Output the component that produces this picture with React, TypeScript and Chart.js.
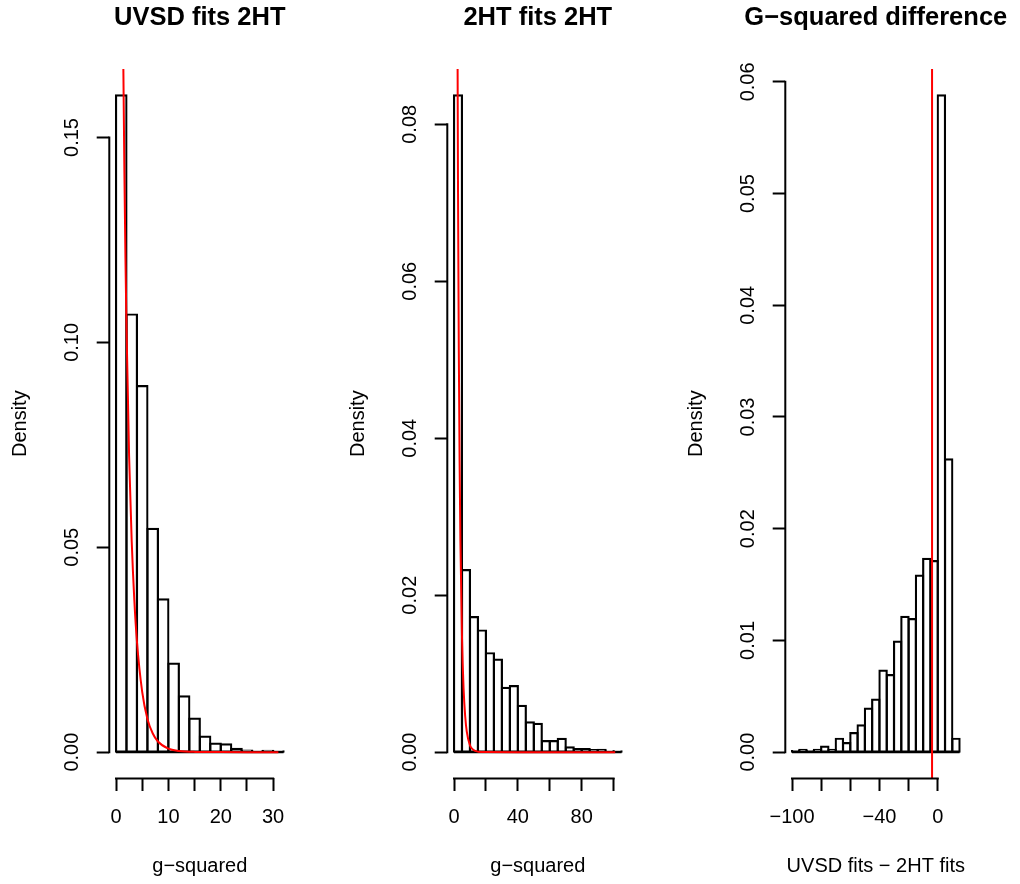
import React, { useEffect, useRef } from "react";
import { Chart, registerables } from "chart.js";

Chart.register(...registerables);

// ---------- Panel 1: UVSD fits 2HT ----------
const uvsdBreaks = [0, 2, 4, 6, 8, 10, 12, 14, 16, 18, 20, 22, 24, 26, 28, 30, 32];
const uvsdDensity = [0.1603, 0.1068, 0.0893, 0.0545, 0.0373, 0.0216, 0.0136, 0.0082, 0.0038, 0.0021, 0.0019, 0.0008, 0.0004, 0.0002, 0.0003, 0.0002];
const uvsdCurveX = [1.0, 1.2, 1.4, 1.6, 1.8, 2.0, 2.5, 3, 3.5, 4, 5, 6, 7, 8, 10, 12, 15, 20, 25, 31];
const uvsdCurveY = [0.242, 0.2, 0.1674, 0.1417, 0.1209, 0.1038, 0.0723, 0.0514, 0.0371, 0.027, 0.0147, 0.0081, 0.0046, 0.0026, 0.00085, 0.0003, 0.00006, 0.000004, 0, 0];
const uvsdXTicks = [0, 5, 10, 15, 20, 25, 30];
const uvsdXTickLabels = ["0", "", "10", "", "20", "", "30"];
const uvsdYTicks = [0, 0.05, 0.1, 0.15];
const uvsdYTickLabels = ["0.00", "0.05", "0.10", "0.15"];

// ---------- Panel 2: 2HT fits 2HT ----------
const thtBreaks = [0, 5, 10, 15, 20, 25, 30, 35, 40, 45, 50, 55, 60, 65, 70, 75, 80, 85, 90, 95, 100, 105];
const thtDensity = [0.0837, 0.0232, 0.0172, 0.0155, 0.0126, 0.0118, 0.0082, 0.0084, 0.0059, 0.0038, 0.0036, 0.0014, 0.0014, 0.0017, 0.0006, 0.0004, 0.0004, 0.00025, 0.0003, 0.0001, 0.0001];
const thtCurveX = [2.0, 2.5, 3, 3.5, 4, 5, 6, 7, 8, 10, 12, 15, 20, 40, 60, 80, 101];
const thtCurveY = [0.1038, 0.0723, 0.0514, 0.0371, 0.027, 0.0147, 0.0081, 0.0046, 0.0026, 0.00085, 0.0003, 0.00006, 0.000004, 0, 0, 0, 0];
const thtXTicks = [0, 20, 40, 60, 80, 100];
const thtXTickLabels = ["0", "", "40", "", "80", ""];
const thtYTicks = [0, 0.02, 0.04, 0.06, 0.08];
const thtYTickLabels = ["0.00", "0.02", "0.04", "0.06", "0.08"];

// ---------- Panel 3: G-squared difference ----------
const diffBreaks = [-100, -95, -90, -85, -80, -75, -70, -65, -60, -55, -50, -45, -40, -35, -30, -25, -20, -15, -10, -5, 0, 5, 10, 15];
const diffDensity = [0.0001, 0.0002, 0.0001, 0.0002, 0.0005, 0.0002, 0.0012, 0.0008, 0.0017, 0.0024, 0.0039, 0.0047, 0.0073, 0.0069, 0.0099, 0.0121, 0.0119, 0.0158, 0.0173, 0.0171, 0.0588, 0.0262, 0.0012];
const diffVLine = -3.9;
const diffXTicks = [-100, -80, -60, -40, -20, 0];
const diffXTickLabels = ["\u2212100", "", "", "\u221240", "", "0"];
const diffYTicks = [0, 0.01, 0.02, 0.03, 0.04, 0.05, 0.06];
const diffYTickLabels = ["0.00", "0.01", "0.02", "0.03", "0.04", "0.05", "0.06"];

const FONT = "'Liberation Sans', Arial, Helvetica, sans-serif";
const LW = 2;
const BAR_LW = 2.2;

type PanelSpec = {
  title: string;
  xTitle: string;
  breaks: number[];
  density: number[];
  curveX?: number[];
  curveY?: number[];
  vline?: number;
  xTicks: number[];
  xTickLabels: string[];
  yTicks: number[];
  yTickLabels: string[];
};

const axisLinePlugin = {
  id: "rAxisLines",
  afterLayout(chart: any) {
    const t = chart.titleBlock;
    if (t) {
      const c = (chart.chartArea.left + chart.chartArea.right) / 2;
      t.left = c - 200;
      t.right = c + 200;
      t.width = 400;
    }
  },
  afterDraw(chart: any) {
    const { ctx, chartArea, scales } = chart;
    const xs = scales.x;
    const ys = scales.y;
    ctx.save();
    ctx.strokeStyle = "#000";
    ctx.lineWidth = LW;
    ctx.lineCap = "butt";
    const xt = xs.ticks;
    const yt = ys.ticks;
    ctx.beginPath();
    ctx.moveTo(xs.getPixelForValue(xt[0].value) - LW / 2, chartArea.bottom);
    ctx.lineTo(xs.getPixelForValue(xt[xt.length - 1].value) + LW / 2, chartArea.bottom);
    ctx.moveTo(chartArea.left, ys.getPixelForValue(yt[0].value) + LW / 2);
    ctx.lineTo(chartArea.left, ys.getPixelForValue(yt[yt.length - 1].value) - LW / 2);
    ctx.stroke();
    ctx.restore();
  },
};

function Panel({ spec }: { spec: PanelSpec }) {
  const ref = useRef<HTMLCanvasElement | null>(null);
  useEffect(() => {
    if (!ref.current) return;
    const mids = spec.density.map((_, i) => (spec.breaks[i] + spec.breaks[i + 1]) / 2);
    const maxD = Math.max(...spec.density);
    const yMin = -0.04 * maxD;
    const yMax = maxD * 1.04;
    const bx0 = spec.breaks[0];
    const bx1 = spec.breaks[spec.breaks.length - 1];
    const ext = (bx1 - bx0) * 0.04;
    const xMin = bx0 - ext;
    const xMax = bx1 + ext;

    const datasets: any[] = [
      {
        type: "bar",
        order: 2,
        data: mids.map((m, i) => ({ x: m, y: spec.density[i] })),
        backgroundColor: "rgba(255,255,255,0)",
        borderColor: "#000",
        borderSkipped: false,
        // a hairline border inflated outward so each edge is centred on the bin boundary
        borderWidth: 0.01,
        inflateAmount: BAR_LW / 2 - 0.005,
        barPercentage: 1,
        categoryPercentage: 1,
      },
      {
        // baseline drawn by the rectangles' bottoms in R's hist()
        type: "line",
        order: 1,
        data: [
          { x: bx0, y: 0 },
          { x: bx1, y: 0 },
        ],
        borderColor: "#000",
        borderWidth: BAR_LW,
        pointRadius: 0,
        tension: 0,
        fill: false,
      },
    ];
    if (spec.curveX && spec.curveY) {
      datasets.push({
        type: "line",
        order: 0,
        data: spec.curveX.map((x, i) => ({ x, y: spec.curveY![i] })),
        borderColor: "#ff0000",
        borderWidth: 2,
        pointRadius: 0,
        cubicInterpolationMode: "monotone",
        fill: false,
      });
    }
    if (spec.vline !== undefined) {
      datasets.push({
        type: "line",
        order: 0,
        data: [
          { x: spec.vline, y: yMin },
          { x: spec.vline, y: yMax },
        ],
        borderColor: "#ff0000",
        borderWidth: 2,
        pointRadius: 0,
        tension: 0,
        fill: false,
        clip: 0,
      });
    }

    const chart = new Chart(ref.current, {
      type: "bar",
      data: { datasets },
      plugins: [axisLinePlugin],
      options: {
        animation: false,
        responsive: false,
        maintainAspectRatio: false,
        layout: { padding: { left: 0, right: 49.7, top: 0, bottom: 0 } },
        plugins: {
          legend: { display: false },
          tooltip: { enabled: false },
          title: {
            display: true,
            text: spec.title,
            color: "#000",
            fullSize: false,
            font: { family: FONT, size: 25.5, weight: "bold", lineHeight: 1.2 },
            padding: { top: 2.6, bottom: 35.8 },
          },
        },
        scales: {
          x: {
            type: "linear",
            min: xMin,
            max: xMax,
            bounds: "data",
            offset: false,
            afterBuildTicks: (s: any) => {
              s.ticks = spec.xTicks.map((v) => ({ value: v }));
            },
            afterFit: (s: any) => {
              s.height = 105.6;
            },
            grid: {
              display: true,
              offset: false,
              drawOnChartArea: false,
              drawTicks: true,
              tickLength: 12.6,
              tickWidth: LW,
              tickColor: "#000",
            },
            border: { display: false },
            ticks: {
              autoSkip: false,
              maxRotation: 0,
              minRotation: 0,
              padding: 14,
              color: "#000",
              font: { family: FONT, size: 20, lineHeight: 1.2 },
              callback: (_v: any, i: number) => spec.xTickLabels[i],
            },
            title: {
              display: true,
              text: spec.xTitle,
              color: "#000",
              font: { family: FONT, size: 20, lineHeight: 1.2 },
              padding: { top: 0, bottom: 6 },
            },
          },
          y: {
            type: "linear",
            min: yMin,
            max: yMax,
            bounds: "data",
            beginAtZero: false,
            afterBuildTicks: (s: any) => {
              s.ticks = spec.yTicks.map((v) => ({ value: v }));
            },
            afterFit: (s: any) => {
              s.width = 109.3;
            },
            grid: {
              display: true,
              drawOnChartArea: false,
              drawTicks: true,
              tickLength: 12.6,
              tickWidth: LW,
              tickColor: "#000",
            },
            border: { display: false },
            ticks: {
              autoSkip: false,
              minRotation: 90,
              maxRotation: 90,
              crossAlign: "center",
              padding: 5,
              color: "#000",
              font: { family: FONT, size: 20, lineHeight: 1.2 },
              callback: (_v: any, i: number) => spec.yTickLabels[i],
            },
            title: {
              display: true,
              text: "Density",
              color: "#000",
              font: { family: FONT, size: 20, lineHeight: 1.2 },
              padding: { top: 8.7, bottom: 0 },
            },
          },
        },
      } as any,
    } as any);
    return () => chart.destroy();
  }, [spec]);
  return <canvas ref={ref} width={340} height={884} style={{ display: "block", width: 340, height: 884 }} />;
}

const specs: PanelSpec[] = [
  {
    title: "UVSD fits 2HT",
    xTitle: "g\u2212squared",
    breaks: uvsdBreaks,
    density: uvsdDensity,
    curveX: uvsdCurveX,
    curveY: uvsdCurveY,
    xTicks: uvsdXTicks,
    xTickLabels: uvsdXTickLabels,
    yTicks: uvsdYTicks,
    yTickLabels: uvsdYTickLabels,
  },
  {
    title: "2HT fits 2HT",
    xTitle: "g\u2212squared",
    breaks: thtBreaks,
    density: thtDensity,
    curveX: thtCurveX,
    curveY: thtCurveY,
    xTicks: thtXTicks,
    xTickLabels: thtXTickLabels,
    yTicks: thtYTicks,
    yTickLabels: thtYTickLabels,
  },
  {
    title: "G\u2212squared difference",
    xTitle: "UVSD fits \u2212 2HT fits",
    breaks: diffBreaks,
    density: diffDensity,
    vline: diffVLine,
    xTicks: diffXTicks,
    xTickLabels: diffXTickLabels,
    yTicks: diffYTicks,
    yTickLabels: diffYTickLabels,
  },
];

const panelLefts = [0, 338, 676];

export default function App() {
  return (
    <div style={{ position: "absolute", left: 0, top: 0, width: 1020, height: 884, background: "#fff", overflow: "hidden" }}>
      {specs.map((s, i) => (
        <div key={i} style={{ position: "absolute", left: panelLefts[i], top: 0, width: 340, height: 884 }}>
          <Panel spec={s} />
        </div>
      ))}
    </div>
  );
}
